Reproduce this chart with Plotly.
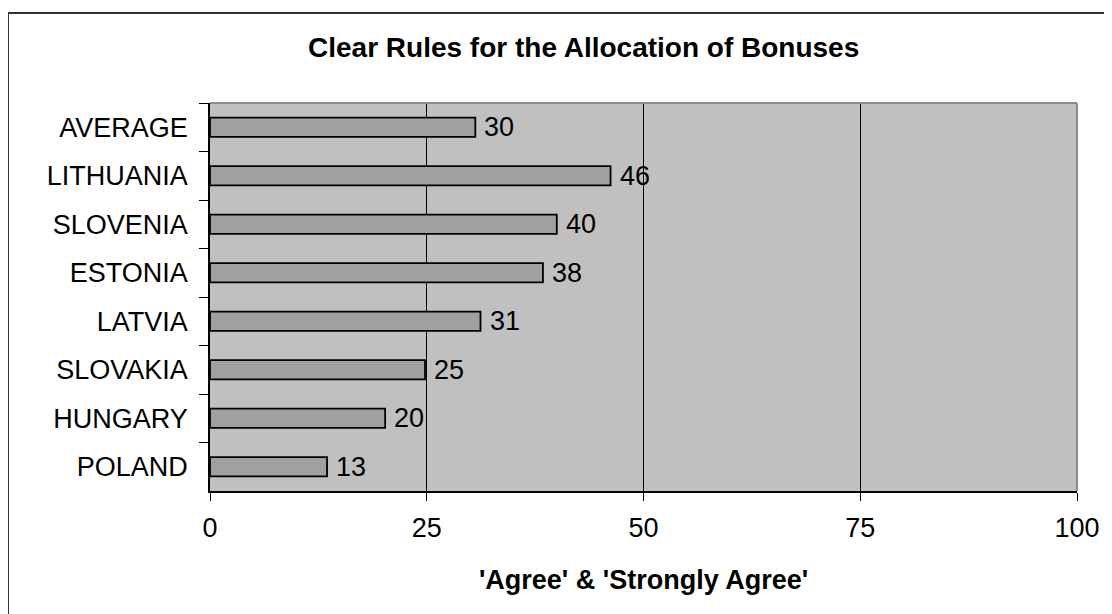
import plotly.graph_objects as go

categories = ["AVERAGE", "LITHUANIA", "SLOVENIA", "ESTONIA", "LATVIA", "SLOVAKIA", "HUNGARY", "POLAND"]
values = [30.6, 46.2, 40.0, 38.4, 31.2, 24.8, 20.2, 13.5]
labels = ["30", "46", "40", "38", "31", "25", "20", "13"]
x_ticks = [0, 25, 50, 75, 100]

FONT = "Liberation Sans, Arial, sans-serif"
OFF = 8  # page body offset
L, T = 210 - OFF, 103 - OFF
PW, PH = 867, 388

fig = go.Figure()
fig.add_trace(go.Bar(
    y=categories, x=values, orientation="h",
    marker=dict(color="#A0A0A0", line=dict(color="#000000", width=1.8)),
    width=0.4,
))

value_annotations = [
    dict(x=v, y=c, text=t, xref="x", yref="y", xanchor="left", yanchor="middle",
         xshift=7, showarrow=False, font=dict(family=FONT, size=27, color="#000000"))
    for c, v, t in zip(categories, values, labels)
]

fig.update_layout(
    width=1112, height=614,
    margin=dict(l=L, r=1112 - L - PW, t=T, b=614 - T - PH),
    paper_bgcolor="#FFFFFF", plot_bgcolor="#C0C0C0",
    showlegend=False,
    font=dict(family=FONT, color="#000000"),
    xaxis=dict(
        range=[0, 100], tickvals=x_ticks, ticktext=[str(v) for v in x_ticks],
        showgrid=True, gridcolor="#000000", gridwidth=1, zeroline=False,
        showline=True, linecolor="#000000", linewidth=1.5,
        ticks="outside", ticklen=8, tickcolor="#000000",
        tickfont=dict(family=FONT, size=27), ticklabelstandoff=4,
        title=dict(text="<b>'Agree' & 'Strongly Agree'</b>", font=dict(family=FONT, size=27), standoff=28),
    ),
    yaxis=dict(
        autorange="reversed", type="category",
        showgrid=False, zeroline=False,
        showline=True, linecolor="#000000", linewidth=1.5,
        ticks="outside", ticklen=9, tickcolor="#000000", tickson="boundaries",
        tickfont=dict(family=FONT, size=27), ticklabelstandoff=15,
    ),
    shapes=[
        dict(type="line", xref="paper", yref="paper", x0=0, x1=1, y0=1, y1=1,
             line=dict(color="#8C8C8C", width=2), layer="above"),
        dict(type="line", xref="paper", yref="paper", x0=1, x1=1, y0=0, y1=1,
             line=dict(color="#8C8C8C", width=2), layer="above"),
        dict(type="rect", xref="paper", yref="paper",
             x0=(8 - 210) / PW, x1=1.3, y0=-0.5, y1=1 + (103 - 13) / PH,
             line=dict(color="#333333", width=2), layer="below"),
    ],
    annotations=value_annotations + [
        dict(text="<b>Clear Rules for the Allocation of Bonuses</b>", xref="paper", yref="paper",
             x=(583 - 210) / PW, y=1 + (103 - 47) / PH, xanchor="center", yanchor="middle",
             showarrow=False, font=dict(family=FONT, size=28, color="#000000")),
    ],
)

fig.write_html("out.html")
